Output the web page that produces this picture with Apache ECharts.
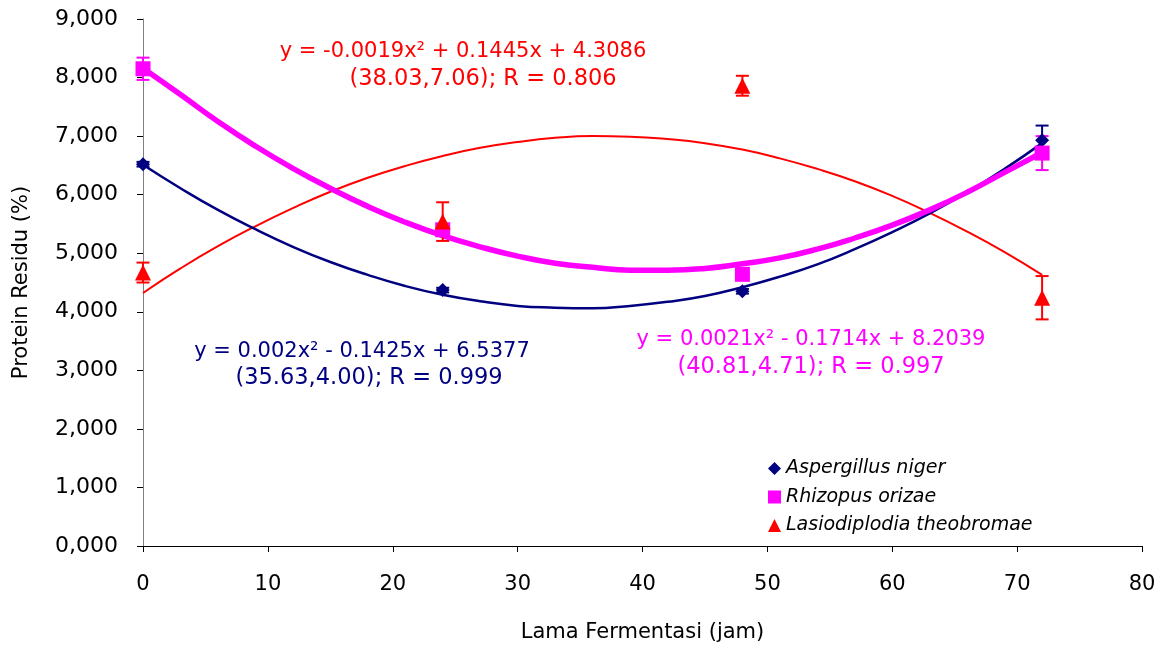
<!DOCTYPE html>
<html>
<head>
<meta charset="utf-8">
<script src="https://cdn.jsdelivr.net/npm/echarts@6/dist/echarts.min.js"></script>
<style>
html,body{margin:0;padding:0;background:#fff;}
#chart{width:1163px;height:648px;}
</style>
</head>
<body>
<div id="chart"></div>
<script>
// Measured points (x = Lama Fermentasi, jam)
var hours = [0, 24, 48, 72];
var aspergillus = [6.52, 4.37, 4.35, 6.93];
var aspergillusErr = [0.04, 0.04, 0.04, 0.25];
var rhizopus = [8.15, 5.40, 4.64, 6.71];
var rhizopusErr = [0.19, 0.05, 0.05, 0.29];
var lasio = [4.67, 5.54, 7.86, 4.24];
var lasioErr = [0.17, 0.33, 0.17, 0.37];

// Trend-line points
var trendX = [0, 3, 6, 9, 12, 15, 18, 21, 24, 27, 30, 33, 36, 39, 42, 45, 48, 51, 54, 57, 60, 63, 66, 69, 72];
var aspergillusTrend = [6.51, 6.11, 5.74, 5.41, 5.11, 4.85, 4.63, 4.44, 4.29, 4.18, 4.10, 4.07, 4.06, 4.10, 4.17, 4.27, 4.42, 4.60, 4.81, 5.07, 5.36, 5.68, 6.04, 6.44, 6.88];
var rhizopusTrend = [8.16, 7.71, 7.25, 6.83, 6.45, 6.11, 5.80, 5.53, 5.30, 5.11, 4.95, 4.83, 4.76, 4.71, 4.71, 4.74, 4.82, 4.92, 5.07, 5.26, 5.48, 5.74, 6.04, 6.38, 6.72];
var lasioTrend = [4.32, 4.74, 5.12, 5.46, 5.77, 6.05, 6.29, 6.49, 6.66, 6.80, 6.90, 6.97, 7.00, 6.99, 6.95, 6.88, 6.77, 6.62, 6.44, 6.23, 5.98, 5.69, 5.37, 5.02, 4.63];

var yTickLabels = ['0,000','1,000','2,000','3,000','4,000','5,000','6,000','7,000','8,000','9,000'];
var names = ['Aspergillus niger', 'Rhizopus orizae', 'Lasiodiplodia theobromae'];
var eqAsp = ['y = 0.002x\u00b2 - 0.1425x + 6.5377', '(35.63,4.00); R = 0.999'];
var eqRhi = ['y = 0.0021x\u00b2 - 0.1714x + 8.2039', '(40.81,4.71); R = 0.997'];
var eqLas = ['y = -0.0019x\u00b2 + 0.1445x + 4.3086', '(38.03,7.06); R = 0.806'];

var NAVY = '#000080', MAG = '#FF00FF', RED = '#FF0000';
var FONT = 'DejaVu Sans';

function pairs(xs, ys) { return xs.map(function (x, i) { return [x, ys[i]]; }); }
function errData(xs, ys, es) { return xs.map(function (x, i) { return [x, ys[i] - es[i], ys[i] + es[i]]; }); }

function errSeries(xs, ys, es, color, z) {
  return {
    type: 'custom',
    z: z,
    silent: true,
    data: errData(xs, ys, es),
    renderItem: function (params, api) {
      var lo = api.coord([api.value(0), api.value(1)]);
      var hi = api.coord([api.value(0), api.value(2)]);
      var w = 6.5;
      var st = { stroke: color, lineWidth: 2 };
      return {
        type: 'group',
        children: [
          { type: 'line', shape: { x1: lo[0], y1: lo[1], x2: hi[0], y2: hi[1] }, style: st },
          { type: 'line', shape: { x1: lo[0] - w, y1: lo[1], x2: lo[0] + w, y2: lo[1] }, style: st },
          { type: 'line', shape: { x1: hi[0] - w, y1: hi[1], x2: hi[0] + w, y2: hi[1] }, style: st }
        ]
      };
    }
  };
}

function trendSeries(ys, color, width, z) {
  return {
    type: 'line', data: pairs(trendX, ys), smooth: true, showSymbol: false, silent: true, z: z,
    lineStyle: { color: color, width: width }, itemStyle: { color: color }
  };
}

function eqText(lines, cx1, cx2, y1, y2, color) {
  return [
    { type: 'text', x: cx1, y: y1, z: 100, style: { text: lines[0], fill: color, font: '21px "' + FONT + '"', textAlign: 'center', textVerticalAlign: 'middle' } },
    { type: 'text', x: cx2, y: y2, z: 100, style: { text: lines[1], fill: color, font: '22.5px "' + FONT + '"', textAlign: 'center', textVerticalAlign: 'middle' } }
  ];
}

var chart = echarts.init(document.getElementById('chart'), null, { renderer: 'canvas' });
var option = {
  animation: false,
  backgroundColor: '#fff',
  textStyle: { fontFamily: FONT },
  grid: { left: 143, right: 21, top: 19, bottom: 102, containLabel: false, outerBoundsMode: 'none' },
  xAxis: {
    type: 'value', min: 0, max: 80, interval: 10,
    name: 'Lama Fermentasi (jam)', nameLocation: 'middle', nameGap: 76,
    nameTextStyle: { color: '#000', fontSize: 21, fontFamily: FONT },
    axisLine: { onZero: false, lineStyle: { color: '#000', width: 1 } },
    axisTick: { show: true, length: 6, lineStyle: { color: '#000' } },
    axisLabel: { color: '#000', fontSize: 21, margin: 28, fontFamily: FONT },
    splitLine: { show: false }
  },
  yAxis: {
    type: 'value', min: 0, max: 9, interval: 1,
    name: 'Protein Residu (%)', nameLocation: 'middle', nameGap: 111, nameRotate: 90,
    nameTextStyle: { color: '#000', fontSize: 21, fontFamily: FONT },
    axisLine: { show: true, lineStyle: { color: '#808080', width: 1 } },
    axisTick: { show: true, length: 6, lineStyle: { color: '#000' } },
    axisLabel: { color: '#000', fontSize: 22, margin: 25, fontFamily: FONT,
      formatter: function (v) { return yTickLabels[Math.round(v)]; } },
    splitLine: { show: false }
  },
  legend: {
    orient: 'vertical', left: 768, top: 459, itemGap: 9.5, padding: 0,
    itemWidth: 13, itemHeight: 13,
    data: [
      { name: names[0], icon: 'diamond' },
      { name: names[1], icon: 'rect' },
      { name: names[2], icon: 'triangle' }
    ],
    textStyle: { fontStyle: 'italic', fontSize: 19, color: '#000', fontFamily: FONT }
  },
  series: [
    trendSeries(lasioTrend, RED, 2, 2),
    trendSeries(aspergillusTrend, NAVY, 2.5, 3),
    trendSeries(rhizopusTrend, MAG, 5.5, 4),
    errSeries(hours, aspergillus, aspergillusErr, NAVY, 5),
    errSeries(hours, rhizopus, rhizopusErr, MAG, 6),
    errSeries(hours, lasio, lasioErr, RED, 7),
    { name: names[0], type: 'scatter', data: pairs(hours, aspergillus), symbol: 'diamond', symbolSize: 14, z: 8, itemStyle: { color: NAVY, opacity: 1 } },
    { name: names[1], type: 'scatter', data: pairs(hours, rhizopus), symbol: 'rect', symbolSize: 15, z: 9, itemStyle: { color: MAG, opacity: 1 } },
    { name: names[2], type: 'scatter', data: pairs(hours, lasio), symbol: 'triangle', symbolSize: 16, z: 10, itemStyle: { color: RED, opacity: 1 } }
  ],
  graphic: [].concat(
    eqText(eqLas, 463, 483, 52, 79, RED),
    eqText(eqAsp, 362, 369, 352, 378, NAVY),
    eqText(eqRhi, 811, 811, 340, 367, MAG)
  )
};
chart.setOption(option);
</script>
</body>
</html>
